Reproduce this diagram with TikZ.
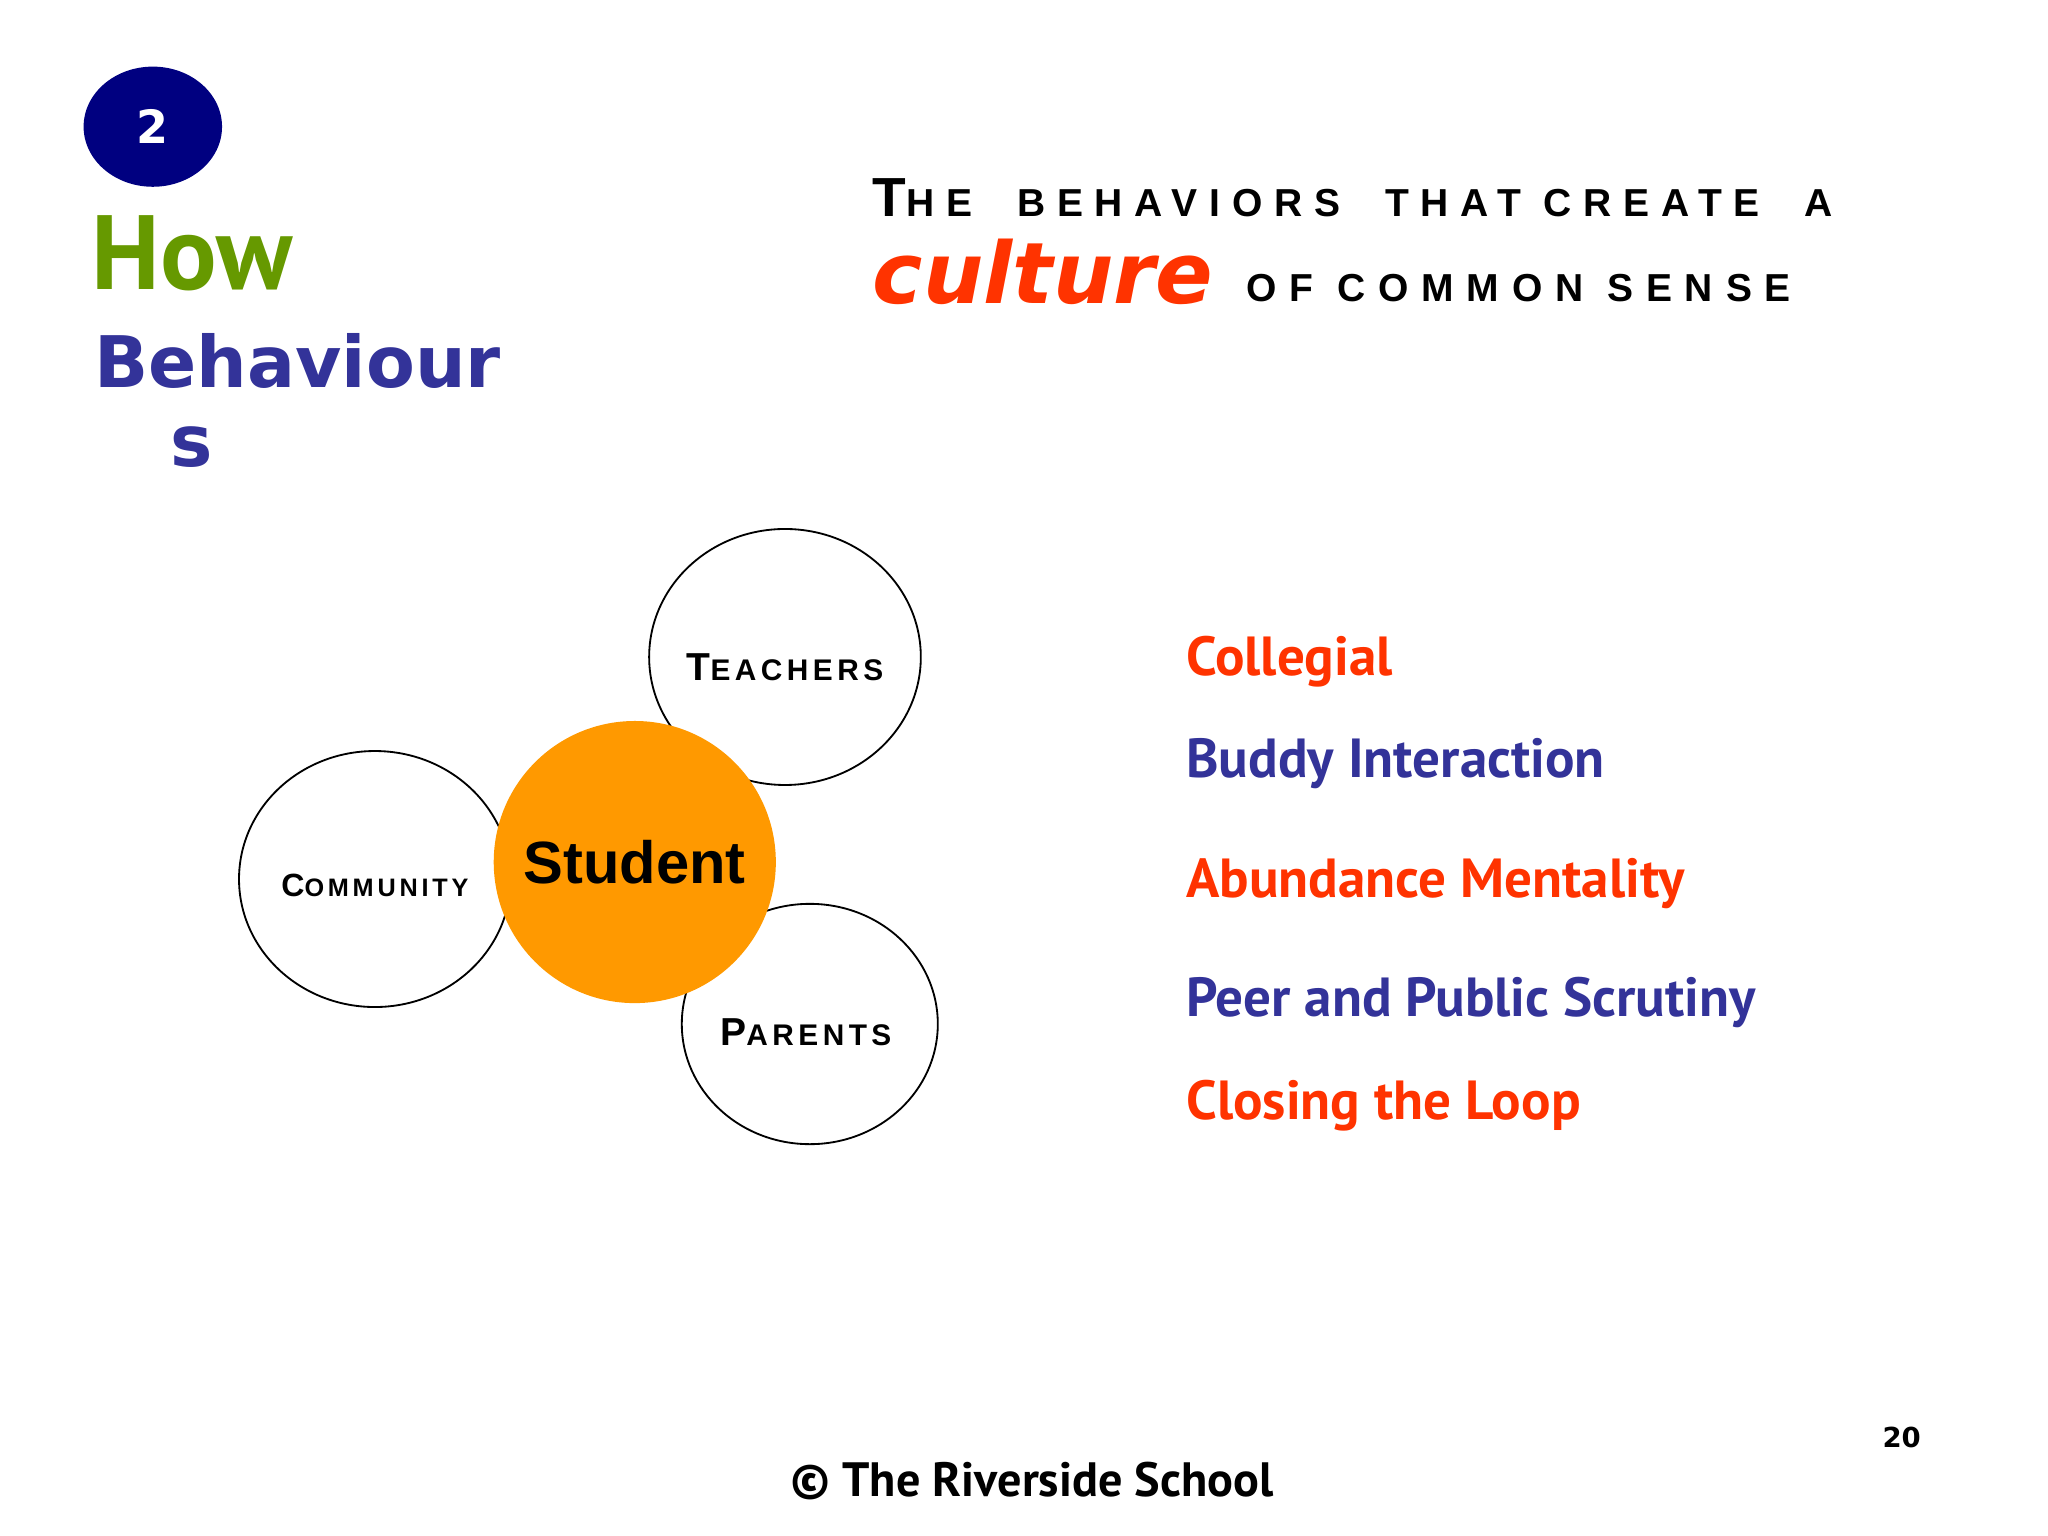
\documentclass[tikz,border=0pt]{standalone}
\usepackage{fontspec}
\setmainfont{Liberation Sans}
\newfontfamily\listfont{PT Sans}
\newfontfamily\headfont{DejaVu Sans}
\usetikzlibrary{shapes.geometric}
\definecolor{navy}{RGB}{0,0,128}
\definecolor{howgreen}{RGB}{102,153,0}
\definecolor{bhblue}{RGB}{51,51,153}
\definecolor{redorange}{RGB}{255,51,0}
\definecolor{studorange}{RGB}{255,153,0}
\tikzset{
  ring/.style={draw, ellipse, line width=0.8pt, inner sep=0pt},
  caplabel/.style={font=\bfseries\fontsize{15}{15}\selectfont},
  item/.style={anchor=base west, font=\listfont\bfseries\fontsize{24}{24}\selectfont},
}
\begin{document}
\begin{tikzpicture}[x=0.02cm, y=-0.02cm]
    \useasboundingbox (0,0) rectangle (1568,1176);
    % slide number badge
    \node[ellipse, fill=navy, minimum width=106*0.02cm, minimum height=92*0.02cm, text=white,
          font=\headfont\bfseries\fontsize{20}{20}\selectfont] (badge) at (117,97) {2};
    \node[anchor=base west, text=howgreen, font=\listfont\bfseries\fontsize{46}{46}\selectfont] (how) at (64,222) {How};
    \node[anchor=base west, text=bhblue, font=\headfont\bfseries\fontsize{31}{31}\selectfont] (beh) at (66,297) {Behaviour};
    \node[anchor=base west, text=bhblue, font=\headfont\bfseries\fontsize{31}{31}\selectfont] (behs) at (124,357) {s};

    % headline
    \node[anchor=base west, font=\bfseries\addfontfeature{LetterSpace=30}] (title1) at (662,166)
      {{\fontsize{24}{24}\selectfont T}{\fontsize{17}{17}\selectfont HE\ \ BEHAVIORS\ \ THAT CREATE\ \ A}};
    \node[anchor=base west, text=redorange, font=\headfont\bfseries\itshape\fontsize{37}{37}\selectfont] (cult) at (662,232) {culture};
    \node[anchor=base west, font=\bfseries\fontsize{17}{17}\selectfont\addfontfeature{LetterSpace=33}] (title2) at (948,231)
      {OF COMMON SENSE};

    % circles
    \node[ring, minimum width=208*0.02cm, minimum height=196*0.02cm] (teach) at (601,503) {};
    \node[ring, minimum width=208*0.02cm, minimum height=196*0.02cm] (comm) at (287,673) {};
    \node[ring, minimum width=196*0.02cm, minimum height=184*0.02cm] (par) at (620,784) {};
    \node[circle, fill=studorange, minimum size=216*0.02cm, inner sep=0pt,
          font=\bfseries\fontsize{26}{26}\selectfont] (stud) at (486,660) {Student};
    \node[caplabel, font=\bfseries\addfontfeature{LetterSpace=15}] at ([yshift=-8*0.02cm]teach.center) {{\fontsize{17}{17}\selectfont T}{\fontsize{13}{13}\selectfont EACHERS}};
    \node[caplabel, font=\bfseries\addfontfeature{LetterSpace=15}] at ([yshift=-5*0.02cm]comm.center) {{\fontsize{14}{14}\selectfont C}{\fontsize{11}{11}\selectfont OMMUNITY}};
    \node[caplabel, font=\bfseries\addfontfeature{LetterSpace=15}] at ([shift={(-3*0.02cm,-6*0.02cm)}]par.center) {{\fontsize{17}{17}\selectfont P}{\fontsize{13}{13}\selectfont ARENTS}};

    % behaviours list
    \node[item, text=redorange] (l1) at (902,517) {Collegial};
    \node[item, text=bhblue] (l2) at (902,595) {Buddy Interaction};
    \node[item, text=redorange] (l3) at (902,687) {Abundance Mentality};
    \node[item, text=bhblue] (l4) at (902,778) {Peer and Public Scrutiny};
    \node[item, text=redorange] (l5) at (902,857) {Closing the Loop};

    % footer
    \node[anchor=base, font=\listfont\bfseries\fontsize{21}{21}\selectfont] (foot) at (790,1146) {\textcopyright\ The Riverside School};
    \node[anchor=base, font=\headfont\bfseries\fontsize{12}{12}\selectfont] (page) at (1456,1108) {20};
\end{tikzpicture}
\end{document}
